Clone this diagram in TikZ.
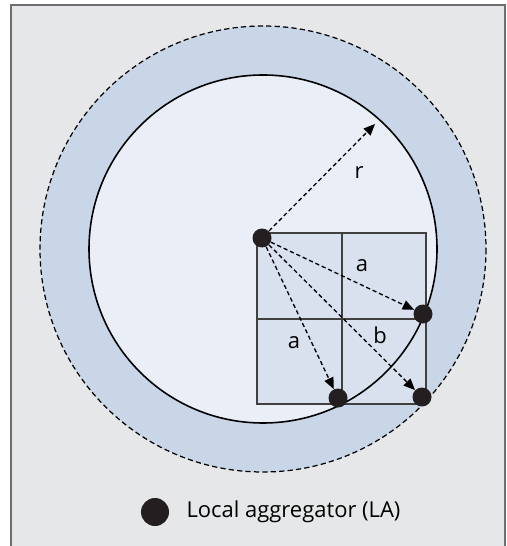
\documentclass[tikz,border=0pt]{standalone}
\usepackage{fontspec}
\setmainfont{Open Sans}
\usepackage{tikz}
\usetikzlibrary{arrows.meta, positioning}

\definecolor{framegray}{RGB}{109,110,113}
\definecolor{bggray}{RGB}{230,231,232}
\definecolor{ringblue}{RGB}{201,214,232}
\definecolor{diskblue}{RGB}{233,238,247}
\definecolor{cellblue}{RGB}{217,224,238}
\definecolor{dotblack}{RGB}{35,31,32}

\begin{document}
\begin{tikzpicture}[x=0.02cm, y=-0.02cm, every node/.style={font=\fontsize{12.5}{15}\selectfont},
  la/.style={circle, fill=dotblack, inner sep=0pt, minimum size=0.38cm},
  link/.style={dash pattern=on 2.4pt off 1.6pt, line width=0.75pt, -{Triangle[length=6.5pt, width=5.5pt]}}]
  \useasboundingbox (0,0) rectangle (506,546);
  \draw [framegray, line width=0.9pt, fill=bggray] (11,5) rectangle (505,548);

  \fill [ringblue] (263,249) circle (223);
  \draw [dash pattern=on 3pt off 1.8pt, line width=0.7pt] (263,249) circle (223);
  \fill [diskblue] (263,249) circle (174);

  \draw [fill=cellblue, draw=black!75, line width=0.8pt] (257,233) rectangle (426,404);
  \draw [black!75, line width=0.8pt] (342,233) -- (342,404) (257,319) -- (426,319);
  \draw [line width=0.9pt] (263,249) circle (174);

  \node (la0) [la] at (262,238) {};
  \node (la1) [la] at (423,314) {};
  \node (la2) [la] at (338,398) {};
  \node (la3) [la] at (422,397) {};
  \coordinate (rtip) at (375,124);

  \draw [link] (la0) -- (rtip);
  \draw [link] (la0) -- (la1);
  \draw [link] (la0) -- (la2);
  \draw [link] (la0) -- (la3);

  \node (r) at (359,173) {r};
  \node (a1) at (362,266) {a};
  \node (a2) at (294,343) {a};
  \node (b) at (380,335) {b};

  \node (lalg) [la, minimum size=0.56cm] at (155,512) {};
  \node (lalgtext) [right=0.22cm of lalg] {Local aggregator (LA)};
\end{tikzpicture}
\end{document}
